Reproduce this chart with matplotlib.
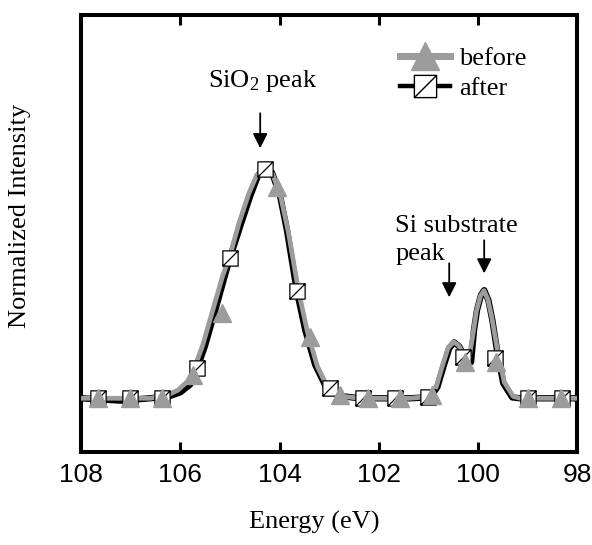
import matplotlib
matplotlib.use("Agg")
import matplotlib.pyplot as plt
from matplotlib.path import Path
from matplotlib.lines import Line2D

plt.rcParams['mathtext.fontset'] = 'custom'
plt.rcParams['mathtext.rm'] = 'Liberation Serif'
plt.rcParams['mathtext.it'] = 'Liberation Serif:italic'

# ---- data ----
after_energy = [108.00, 107.21, 106.61, 106.21, 106.00, 105.80, 105.66, 105.50, 105.30, 105.10,
                105.00, 104.79, 104.59, 104.43, 104.29, 104.15, 103.99, 103.85, 103.65, 103.48,
                103.28, 103.08, 102.98, 102.78, 102.38, 101.37, 100.96, 100.82, 100.70, 100.58,
                100.48, 100.38, 100.28, 100.14, 100.08, 100.02, 99.94, 99.875, 99.79, 99.71,
                99.61, 99.49, 99.31, 99.15, 98.00]
after_intensity = [0.00, -0.01, 0.00, 0.01, 0.026, 0.06, 0.13, 0.23, 0.38, 0.535,
                   0.61, 0.75, 0.88, 0.97, 1.00, 0.98, 0.88, 0.73, 0.465, 0.295,
                   0.145, 0.057, 0.035, 0.01, 0.00, 0.00, 0.005, 0.048, 0.135, 0.217,
                   0.243, 0.226, 0.183, 0.157, 0.296, 0.383, 0.448, 0.47, 0.426, 0.339,
                   0.20, 0.065, 0.004, 0.00, 0.00]

before_energy = [108.00, 107.21, 106.61, 106.25, 106.05, 105.85, 105.72, 105.55, 105.35, 105.15,
                 105.00, 104.82, 104.62, 104.46, 104.30, 104.14, 103.98, 103.82, 103.62, 103.44,
                 103.24, 103.04, 102.90, 102.70, 102.38, 101.37, 100.98, 100.84, 100.72, 100.60,
                 100.49, 100.39, 100.29, 100.18, 100.10, 100.03, 99.95, 99.88, 99.80, 99.72,
                 99.60, 99.47, 99.29, 99.15, 98.00]
before_intensity = [0.00, 0.00, 0.00, 0.015, 0.035, 0.075, 0.13, 0.23, 0.38, 0.53,
                    0.62, 0.76, 0.89, 0.97, 0.995, 0.975, 0.88, 0.72, 0.47, 0.29,
                    0.14, 0.05, 0.025, 0.008, 0.00, 0.00, 0.008, 0.05, 0.14, 0.22,
                    0.245, 0.23, 0.19, 0.175, 0.28, 0.38, 0.445, 0.468, 0.43, 0.35,
                    0.20, 0.07, 0.008, 0.00, 0.00]

after_mark_energy = [107.66, 107.01, 106.37, 105.66, 105.00, 104.29, 103.65, 102.98,
                     102.31, 101.67, 101.00, 100.30, 99.65, 98.99, 98.30]
after_mark_intensity = [0.00, 0.00, 0.00, 0.13, 0.61, 0.995, 0.465, 0.043,
                        0.00, 0.00, 0.004, 0.178, 0.174, 0.00, 0.00]

before_mark_energy = [107.66, 107.01, 106.37, 105.74, 105.15, 104.05, 103.38, 102.78,
                      102.21, 101.57, 100.93, 100.27, 99.63, 99.00, 98.32]
before_mark_intensity = [0.00, 0.00, 0.00, 0.10, 0.37, 0.92, 0.265, 0.013,
                         0.00, 0.00, 0.013, 0.157, 0.157, 0.00, 0.00]

xticks = [108, 106, 104, 102, 100, 98]
xtick_labels = ['108', '106', '104', '102', '100', '98']

# ---- style ----
GRAY = '#9c9c9c'
serif = 'Liberation Serif'

sq_path = Path([(-1, -1), (1, -1), (1, 1), (-1, 1), (-1, -1), (-1, -1), (1, 1)],
               [Path.MOVETO, Path.LINETO, Path.LINETO, Path.LINETO, Path.CLOSEPOLY,
                Path.MOVETO, Path.LINETO])

fig = plt.figure(figsize=(5.92, 5.45), dpi=100)
ax = fig.add_axes([0.137, 0.170, 0.838, 0.802])

ax.plot(after_energy, after_intensity, color='black', lw=4.6, solid_joinstyle='round',
        solid_capstyle='round', zorder=2)
ax.plot(before_energy, before_intensity, color=GRAY, lw=3.4, solid_joinstyle='round',
        solid_capstyle='round', zorder=3)
ax.plot(after_mark_energy, after_mark_intensity, ls='none', marker=sq_path, ms=11,
        mfc='white', mec='black', mew=0.9, zorder=4)
ax.plot(before_mark_energy, before_mark_intensity, ls='none', marker='^', ms=12.5,
        mfc=GRAY, mec=GRAY, zorder=5)

ax.set_xlim(108, 98)
ax.set_ylim(-0.235, 1.665)
ax.set_yticks([])
ax.set_xticks(xticks)
ax.set_xticklabels(xtick_labels, fontfamily='Liberation Sans', fontsize=19)
ax.tick_params(axis='x', direction='in', top=True, length=7.2, width=2.2, pad=8)
for s in ax.spines.values():
    s.set_linewidth(2.9)

ax.set_xlabel('Energy (eV)', fontfamily=serif, fontsize=19)
ax.xaxis.set_label_coords(0.47, -0.135)
ax.set_ylabel('Normalized Intensity', fontfamily=serif, fontsize=19)
ax.yaxis.set_label_coords(-0.102, 0.542)

# annotations
arrow = dict(arrowstyle='-|>', color='black', lw=1.3, mutation_scale=22, shrinkA=0, shrinkB=0)
ax.annotate('', xy=(104.39, 1.087), xytext=(104.39, 1.239), arrowprops=arrow)
ax.annotate('', xy=(99.875, 0.543), xytext=(99.875, 0.687), arrowprops=arrow)
ax.annotate('', xy=(100.58, 0.439), xytext=(100.58, 0.587), arrowprops=arrow)
ax.text(104.33, 1.352, r'SiO$_2$ peak', fontfamily=serif, fontsize=19, ha='center', va='baseline')
ax.text(101.67, 0.722, 'Si substrate', fontfamily=serif, fontsize=19, ha='left', va='baseline')
ax.text(101.67, 0.600, 'peak', fontfamily=serif, fontsize=19, ha='left', va='baseline')

handles = [Line2D([], [], color=GRAY, lw=5.0, marker='^', ms=20, mfc=GRAY, mec=GRAY),
           Line2D([], [], color='black', lw=3.2, marker=sq_path, ms=16, mfc='white',
                  mec='black', mew=1.0)]
leg = fig.legend(handles, ['before', 'after'], loc='upper left', bbox_to_anchor=(0.675, 0.915),
                 frameon=False, prop={'family': serif, 'size': 19}, handlelength=1.9,
                 handletextpad=0.35, labelspacing=0.25, borderpad=0, borderaxespad=0)

fig.savefig('out.png', dpi=100)
